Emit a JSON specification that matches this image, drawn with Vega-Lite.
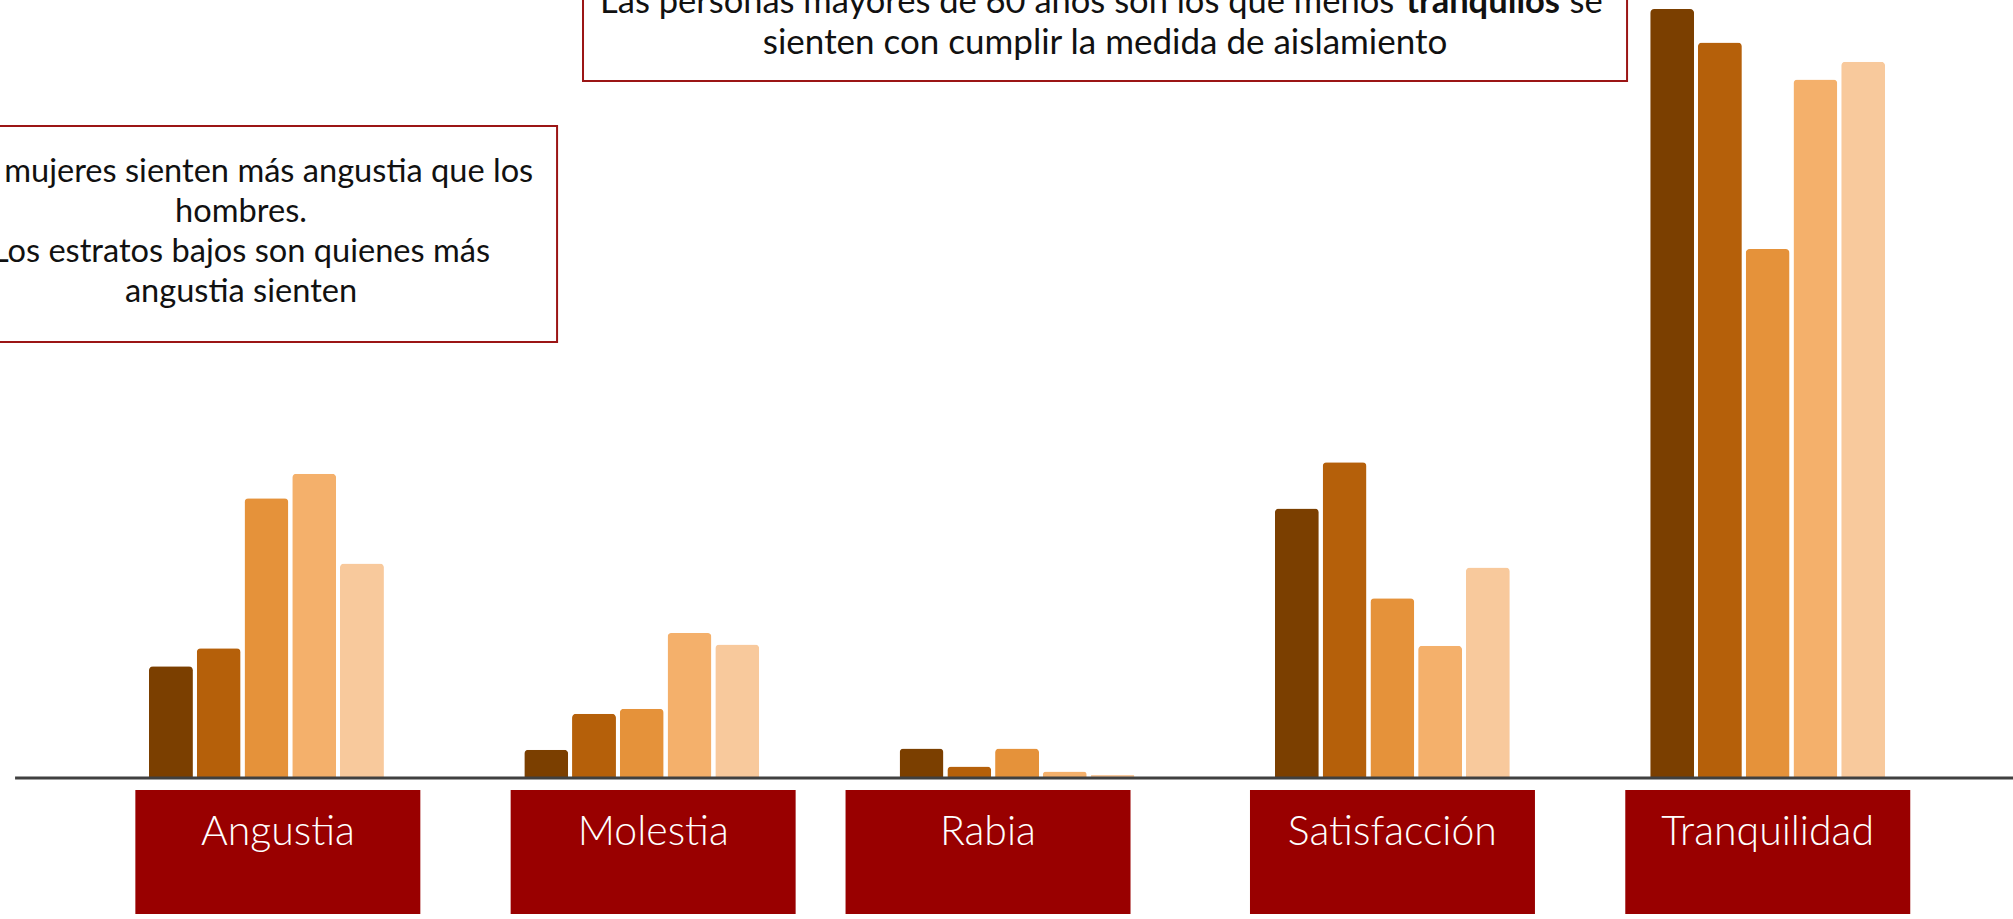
{
  "$schema": "https://vega.github.io/schema/vega-lite/v6.json",
  "width": 2013,
  "height": 919,
  "autosize": {"type": "none"},
  "padding": 0,
  "background": "white",
  "config": {"view": {"stroke": null}},
  "datasets": {
    "barras": [
      {"emocion": "Angustia", "grupo": "Grupo 1", "valor": 8.7},
      {"emocion": "Angustia", "grupo": "Grupo 2", "valor": 10.1},
      {"emocion": "Angustia", "grupo": "Grupo 3", "valor": 21.8},
      {"emocion": "Angustia", "grupo": "Grupo 4", "valor": 23.7},
      {"emocion": "Angustia", "grupo": "Grupo 5", "valor": 16.7},
      {"emocion": "Molestia", "grupo": "Grupo 1", "valor": 2.2},
      {"emocion": "Molestia", "grupo": "Grupo 2", "valor": 5.0},
      {"emocion": "Molestia", "grupo": "Grupo 3", "valor": 5.4},
      {"emocion": "Molestia", "grupo": "Grupo 4", "valor": 11.3},
      {"emocion": "Molestia", "grupo": "Grupo 5", "valor": 10.4},
      {"emocion": "Rabia", "grupo": "Grupo 1", "valor": 2.3},
      {"emocion": "Rabia", "grupo": "Grupo 2", "valor": 0.9},
      {"emocion": "Rabia", "grupo": "Grupo 3", "valor": 2.3},
      {"emocion": "Rabia", "grupo": "Grupo 4", "valor": 0.5},
      {"emocion": "Rabia", "grupo": "Grupo 5", "valor": 0.25},
      {"emocion": "Satisfacción", "grupo": "Grupo 1", "valor": 21.0},
      {"emocion": "Satisfacción", "grupo": "Grupo 2", "valor": 24.6},
      {"emocion": "Satisfacción", "grupo": "Grupo 3", "valor": 14.0},
      {"emocion": "Satisfacción", "grupo": "Grupo 4", "valor": 10.3},
      {"emocion": "Satisfacción", "grupo": "Grupo 5", "valor": 16.4},
      {"emocion": "Tranquilidad", "grupo": "Grupo 1", "valor": 59.9},
      {"emocion": "Tranquilidad", "grupo": "Grupo 2", "valor": 57.3},
      {"emocion": "Tranquilidad", "grupo": "Grupo 3", "valor": 41.2},
      {"emocion": "Tranquilidad", "grupo": "Grupo 4", "valor": 54.4},
      {"emocion": "Tranquilidad", "grupo": "Grupo 5", "valor": 55.8}
    ],
    "categorias": [
      {"emocion": "Angustia"},
      {"emocion": "Molestia"},
      {"emocion": "Rabia"},
      {"emocion": "Satisfacción"},
      {"emocion": "Tranquilidad"}
    ],
    "nota": [{"id": 1}]
  },
  "layer": [
    {
      "data": {"name": "barras"},
      "mark": {"type": "bar", "cornerRadiusTopLeft": 4, "cornerRadiusTopRight": 4},
      "encoding": {
        "x": {
          "field": "emocion", "type": "nominal", "axis": null,
          "scale": {
            "domain": ["Angustia", "Molestia", "Rabia", "Satisfacción", "Tranquilidad"],
            "range": [78.8, 1955.3], "paddingInner": 0.374, "paddingOuter": 0.187
          }
        },
        "xOffset": {"field": "grupo", "type": "nominal", "scale": {"paddingInner": 0.08, "paddingOuter": 0}},
        "y": {"field": "valor", "type": "quantitative", "axis": null,
              "scale": {"domain": [-10.983, 60.602], "nice": false, "zero": false}},
        "color": {"field": "grupo", "type": "nominal", "legend": null,
                  "scale": {"range": ["#7B3F00", "#B5600A", "#E5923A", "#F4B06B", "#F8C99C"]}}
      }
    },
    {
      "data": {"name": "nota"},
      "mark": {"type": "rule", "color": "#404040", "strokeWidth": 3},
      "encoding": {
        "x": {"datum": "Angustia", "bandPosition": -0.57},
        "x2": {"datum": "Tranquilidad", "bandPosition": 1.6},
        "y": {"datum": 0}
      }
    },
    {
      "data": {"name": "categorias"},
      "transform": [{"filter": "datum.emocion === 'Angustia' || datum.emocion === 'Molestia'"}],
      "layer": [
        {
          "mark": {"type": "rect", "color": "#990000"},
          "encoding": {
            "x": {"field": "emocion", "type": "nominal", "bandPosition": -0.058},
            "x2": {"field": "emocion", "bandPosition": 1.155},
            "y": {"datum": -0.935},
            "y2": {"datum": -10.594}
          }
        },
        {
          "mark": {"type": "text", "color": "white", "font": "Lato", "fontWeight": 300, "fontSize": 41, "letterSpacing": 3.5, "align": "center", "baseline": "alphabetic"},
          "encoding": {
            "x": {"field": "emocion", "type": "nominal", "bandPosition": 0.549},
            "y": {"datum": -5.22},
            "text": {"field": "emocion"}
          }
        }
      ]
    },
    {
      "data": {"name": "categorias"},
      "transform": [{"filter": "datum.emocion === 'Rabia'"}],
      "layer": [
        {
          "mark": {"type": "rect", "color": "#990000"},
          "encoding": {
            "x": {"field": "emocion", "type": "nominal", "bandPosition": -0.23},
            "x2": {"field": "emocion", "bandPosition": 0.983},
            "y": {"datum": -0.935},
            "y2": {"datum": -10.594}
          }
        },
        {
          "mark": {"type": "text", "color": "white", "font": "Lato", "fontWeight": 300, "fontSize": 41, "letterSpacing": 3.5, "align": "center", "baseline": "alphabetic"},
          "encoding": {
            "x": {"field": "emocion", "type": "nominal", "bandPosition": 0.376},
            "y": {"datum": -5.22},
            "text": {"field": "emocion"}
          }
        }
      ]
    },
    {
      "data": {"name": "categorias"},
      "transform": [{"filter": "datum.emocion === 'Satisfacción' || datum.emocion === 'Tranquilidad'"}],
      "layer": [
        {
          "mark": {"type": "rect", "color": "#990000"},
          "encoding": {
            "x": {"field": "emocion", "type": "nominal", "bandPosition": -0.106},
            "x2": {"field": "emocion", "bandPosition": 1.107},
            "y": {"datum": -0.935},
            "y2": {"datum": -10.594}
          }
        },
        {
          "mark": {"type": "text", "color": "white", "font": "Lato", "fontWeight": 300, "fontSize": 41, "letterSpacing": 3.5, "align": "center", "baseline": "alphabetic"},
          "encoding": {
            "x": {"field": "emocion", "type": "nominal", "bandPosition": 0.5},
            "y": {"datum": -5.22},
            "text": {"field": "emocion"}
          }
        }
      ]
    },
    {
      "data": {"name": "nota"},
      "mark": {"type": "rect", "fill": "white", "stroke": "#9B1515", "strokeWidth": 2},
      "encoding": {
        "x": {"datum": "Angustia", "bandPosition": -0.72},
        "x2": {"datum": "Angustia", "bandPosition": 1.737},
        "y": {"datum": 50.79},
        "y2": {"datum": 33.96}
      }
    },
    {
      "data": {"name": "nota"},
      "mark": {"type": "text", "font": "Lato", "fontSize": 32.6, "color": "#111111", "align": "center", "baseline": "alphabetic", "lineHeight": 40},
      "encoding": {
        "x": {"datum": "Angustia", "bandPosition": 0.3917},
        "y": {"datum": 46.43},
        "text": {"value": ["Las mujeres sienten más angustia que los", "hombres.", "Los estratos bajos son quienes más", "angustia sienten"]}
      }
    },
    {
      "data": {"name": "nota"},
      "mark": {"type": "rect", "fill": "white", "stroke": "#9B1515", "strokeWidth": 2},
      "encoding": {
        "x": {"datum": "Molestia", "bandPosition": 0.25},
        "x2": {"datum": "Satisfacción", "bandPosition": 1.499},
        "y": {"datum": 62},
        "y2": {"datum": 54.29}
      }
    },
    {
      "data": {"name": "nota"},
      "mark": {"type": "text", "font": "Lato", "fontSize": 34.5, "color": "#111111", "align": "right", "baseline": "alphabetic"},
      "encoding": {
        "x": {"datum": "Molestia", "bandPosition": 3.7025},
        "y": {"datum": 59.59},
        "text": {"value": "Las personas mayores de 60 años son los que menos"}
      }
    },
    {
      "data": {"name": "nota"},
      "mark": {"type": "text", "font": "Lato", "fontSize": 34.5, "fontWeight": "bold", "color": "#111111", "align": "center", "baseline": "alphabetic"},
      "encoding": {
        "x": {"datum": "Molestia", "bandPosition": 4.081},
        "y": {"datum": 59.59},
        "text": {"value": "tranquilos"}
      }
    },
    {
      "data": {"name": "nota"},
      "mark": {"type": "text", "font": "Lato", "fontSize": 34.5, "color": "#111111", "align": "right", "baseline": "alphabetic"},
      "encoding": {
        "x": {"datum": "Molestia", "bandPosition": 4.59},
        "y": {"datum": 59.59},
        "text": {"value": "se"}
      }
    },
    {
      "data": {"name": "nota"},
      "mark": {"type": "text", "font": "Lato", "fontSize": 35, "color": "#111111", "align": "center", "baseline": "alphabetic"},
      "encoding": {
        "x": {"datum": "Molestia", "bandPosition": 2.472},
        "y": {"datum": 56.4},
        "text": {"value": "sienten con cumplir la medida de aislamiento"}
      }
    }
  ]
}
